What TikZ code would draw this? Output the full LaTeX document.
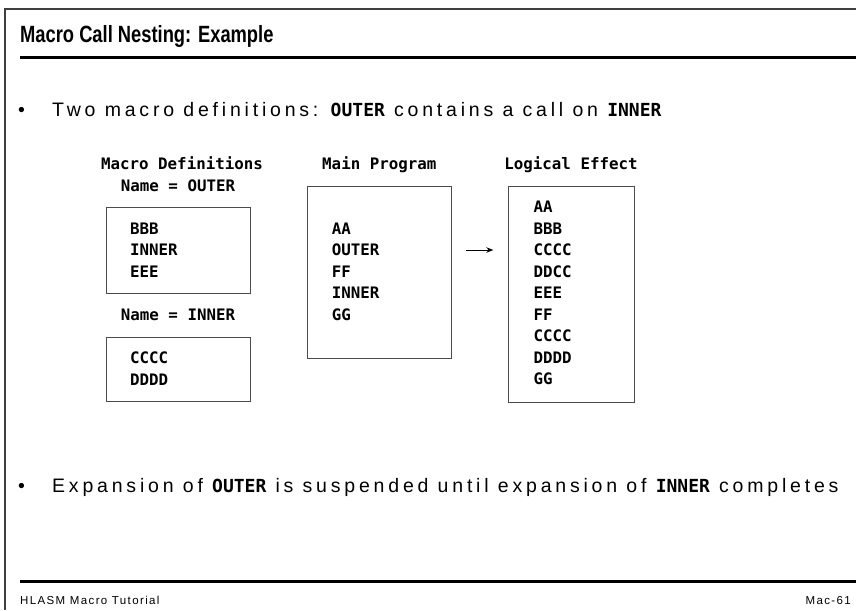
\documentclass[tikz,border=0pt]{standalone}
\usepackage{graphicx}
\usepackage{fontspec}
\setmainfont{Liberation Sans}
\newfontfamily\bodyfont[LetterSpace=19.5]{Liberation Sans}
\newfontfamily\footfont[LetterSpace=12]{Liberation Sans}
\newfontfamily\codefont{DejaVu Sans Mono}
\usetikzlibrary{arrows.meta}
\tikzset{
    slide-frame/.style = {draw=black!75, line width=1.2pt},
    slide-rule/.style = {line width=3.5pt},
    slide-title/.style = {anchor=base west, inner sep=0pt, font=\bfseries\fontsize{23.5}{28}\selectfont},
    bullet-text/.style = {anchor=base west, inner sep=0pt, font=\bodyfont\fontsize{19.5}{23}\selectfont},
    code-box/.style = {draw=black!70, line width=0.9pt, rectangle, inner sep=0pt, anchor=north west},
    code-text/.style = {anchor=north west, inner sep=0pt, align=left, font=\codefont\bfseries\fontsize{15.8}{21.5}\selectfont},
    code-head/.style = {anchor=base, inner sep=0pt, font=\codefont\bfseries\fontsize{15.8}{21.5}\selectfont},
    flow-arrow/.style = {-{Stealth[length=7pt,width=5.5pt]}, line width=1pt},
    foot-text/.style = {anchor=base west, inner sep=0pt, font=\footfont\fontsize{11.5}{13}\selectfont},
}
\newcommand{\kw}[1]{{\codefont\bfseries\fontsize{18}{20}\selectfont #1}}

\begin{document}
\begin{tikzpicture}[x=1pt, y=-1pt]
\useasboundingbox (0,0) rectangle (856,610);
% frame and title
\draw[slide-frame] (5,610) -- (5,9) -- (856,9);
\node[slide-title] (title) at (20,42) {\scalebox{0.78}[1]{Macro Call Nesting: Example}};
\draw[slide-rule] (20,57.5) -- (856,57.5);
\node[bullet-text] (bulletA) at (18,116) {•};
\node[bullet-text] (pointA) at (52,116) {Two macro definitions: \kw{OUTER} contains a call on \kw{INNER}};

% macro definitions
\node[code-head] (defshead) at (182,169.75) {Macro Definitions};
\node[code-head] (outername) at (178,191.25) {Name = OUTER};
\node[code-box, minimum width=144.3pt, minimum height=86pt] (outerbox) at (105.7,207) {};
\node[code-text] (outerlines) at (130,222.75) {BBB\\INNER\\EEE};
\node[code-head] (innername) at (178,320.25) {Name = INNER};
\node[code-box, minimum width=144.3pt, minimum height=64.5pt] (innerbox) at (105.7,336.5) {};
\node[code-text] (innerlines) at (130,351.75) {CCCC\\DDDD};

% main program
\node[code-head] (mainhead) at (379.3,169.75) {Main Program};
\node[code-box, minimum width=144pt, minimum height=172pt] (mainbox) at (307.3,186) {};
\node[code-text] (mainlines) at (331.7,222.75) {AA\\OUTER\\FF\\INNER\\GG};

% logical effect
\node[code-head] (logichead) at (571,169.75) {Logical Effect};
\node[code-box, minimum width=125.7pt, minimum height=215.7pt] (logicbox) at (508.3,186) {};
\node[code-text] (logiclines) at (533.3,201.25) {AA\\BBB\\CCCC\\DDCC\\EEE\\FF\\CCCC\\DDDD\\GG};

\coordinate (arrowtail) at (465.7,250);
\coordinate (arrowtip) at (493.3,250);
\draw[flow-arrow] (arrowtail) -- (arrowtip);

\node[bullet-text] (bulletB) at (18,492) {•};
\node[bullet-text] (pointB) at (52,492) {Expansion of \kw{OUTER} is suspended until expansion of \kw{INNER} completes};

% footer
\draw[slide-rule] (20,581.5) -- (856,581.5);
\node[foot-text] (footleft) at (20,604) {HLASM Macro Tutorial};
\node[foot-text, anchor=base east] (footright) at (851,604) {Mac-61};
\end{tikzpicture}
\end{document}
